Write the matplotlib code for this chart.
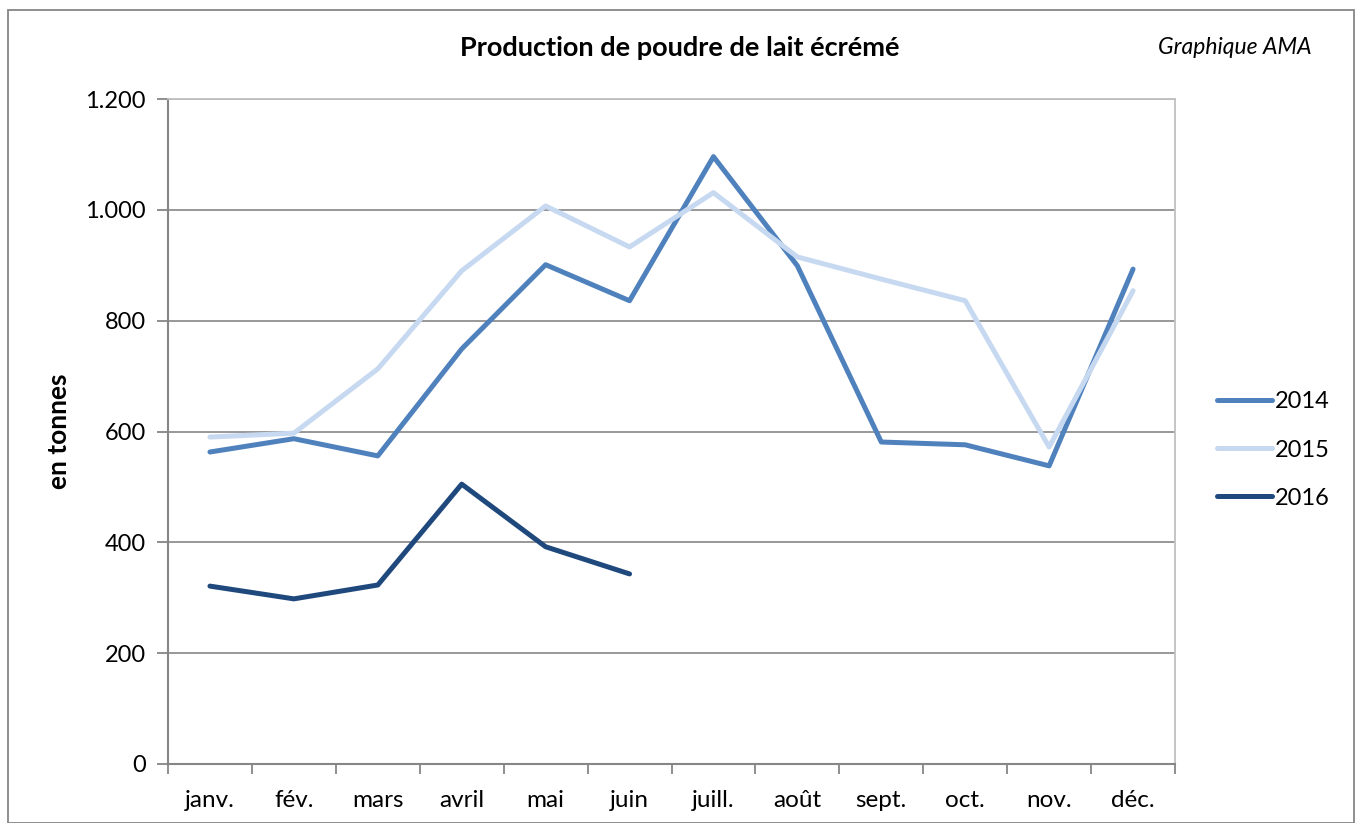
import numpy as np
import matplotlib.pyplot as plt
from matplotlib.patches import Rectangle
from matplotlib.ticker import FuncFormatter

plt.rcParams['font.family'] = ['Lato', 'DejaVu Sans']

# data
months = ['janv.', 'fév.', 'mars', 'avril', 'mai', 'juin',
          'juill.', 'août', 'sept.', 'oct.', 'nov.', 'déc.']
y2014 = [563, 587, 556, 749, 901, 836, 1096, 899, 581, 576, 538, 893]
y2015 = [590, 597, 713, 890, 1007, 933, 1031, 915, 875, 836, 572, 854]
y2016 = [321, 298, 323, 505, 392, 343]

W, H = 1360, 823
fig = plt.figure(figsize=(W / 100, H / 100), dpi=100)
ax = fig.add_axes([168 / W, 1 - 764 / H, (1175 - 168) / W, (764 - 99) / H])

x = np.arange(len(months))
ax.plot(x, y2014, color='#4F81BD', lw=3.6, label='2014', solid_capstyle='round')
ax.plot(x, y2015, color='#C6D9F1', lw=3.6, label='2015', solid_capstyle='round')
ax.plot(x[:len(y2016)], y2016, color='#1F497D', lw=3.6, label='2016',
        solid_capstyle='round')

ax.set_xlim(-0.5, 11.5)
ax.set_ylim(0, 1200)
ax.set_yticks(range(0, 1201, 200))
ax.yaxis.set_major_formatter(FuncFormatter(lambda v, p: f'{int(v):,}'.replace(',', '.')))
ax.set_xticks(x)
ax.set_xticklabels(months)
ax.set_xticks(np.arange(-0.5, 12, 1), minor=True)
ax.tick_params(axis='x', which='major', length=0, pad=19, labelsize=17.5)
ax.tick_params(axis='x', which='minor', length=7, color='#868686', width=1.3)
ax.tick_params(axis='y', length=8, color='#868686', width=1.3, pad=8, labelsize=17)

ax.grid(axis='y', color='#868686', lw=1.2)
ax.set_axisbelow(True)
for s in ['top', 'right']:
    ax.spines[s].set_color('#C0C0C0')
    ax.spines[s].set_linewidth(1.3)
for s in ['left', 'bottom']:
    ax.spines[s].set_color('#868686')
    ax.spines[s].set_linewidth(1.5)

ax.set_ylabel('en tonnes', fontsize=19, fontweight='bold', labelpad=10)
fig.text(680 / W, 1 - 48 / H, 'Production de poudre de lait écrémé',
         ha='center', va='center', fontsize=19.5, fontweight='bold')
fig.text(1235 / W, 1 - 48 / H, 'Graphique AMA', ha='center', va='center',
         fontsize=16.5, style='italic')

ax.legend(loc='center left', bbox_to_anchor=(1196 / W, 1 - 450 / H),
          bbox_transform=fig.transFigure, frameon=False, fontsize=17,
          handlelength=2.3, handletextpad=0.15, labelspacing=1.15)

fig.patches.append(Rectangle((8 / W, 0), (1354 - 8) / W, 1 - 10 / H,
                             transform=fig.transFigure, fill=False,
                             edgecolor='#868686', lw=1.3))

fig.savefig('out.png', dpi=100)
